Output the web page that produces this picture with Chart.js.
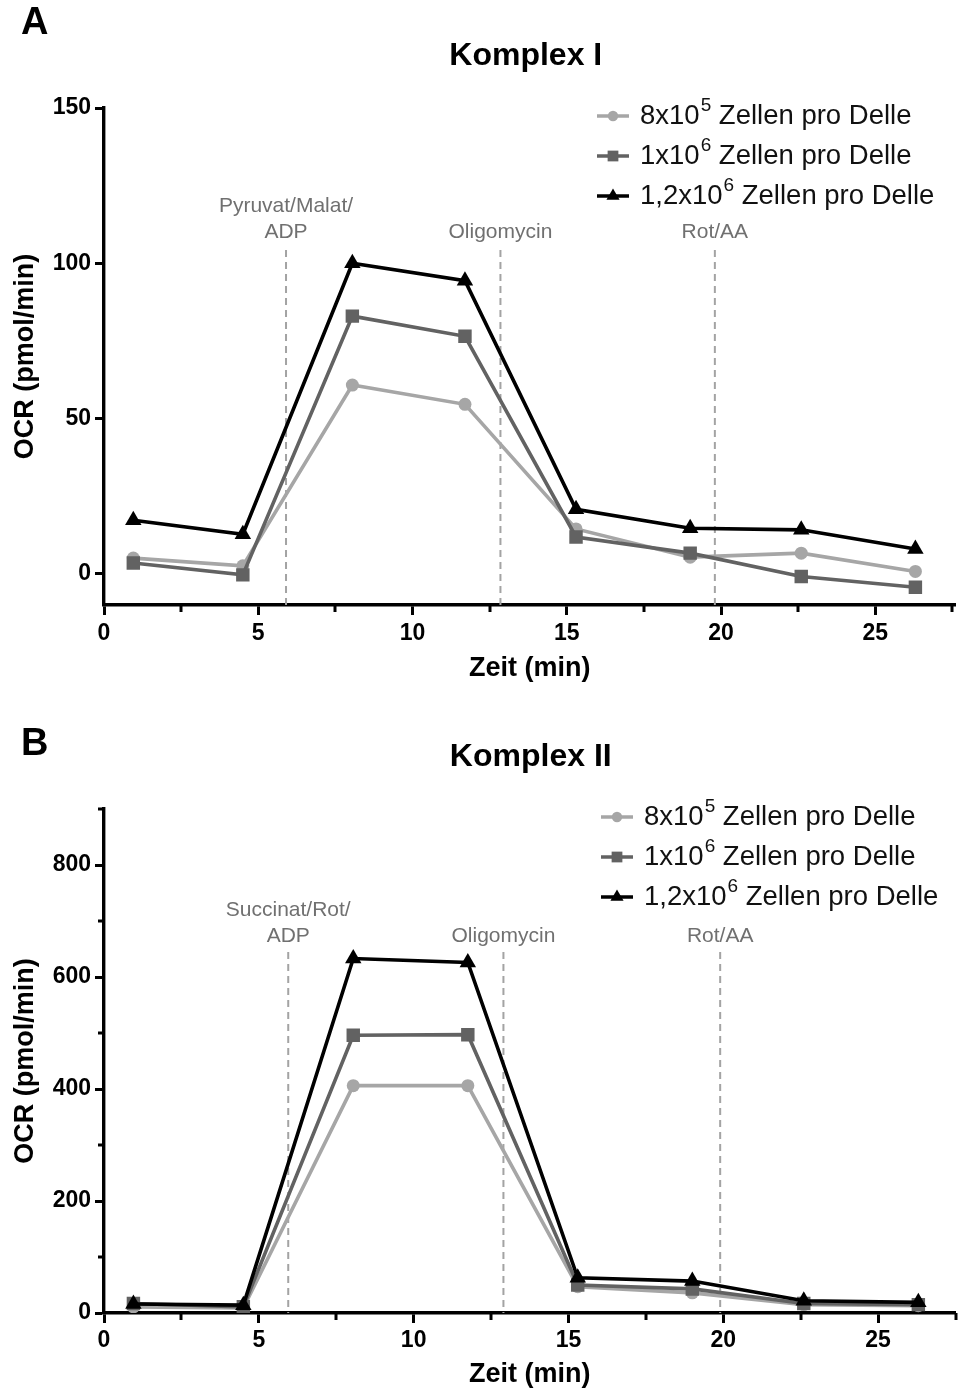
<!DOCTYPE html>
<html><head><meta charset="utf-8">
<script src="https://cdn.jsdelivr.net/npm/chart.js@4.4.0/dist/chart.umd.min.js"></script>
<style>
html,body{margin:0;padding:0;background:#fff;width:965px;height:1392px;overflow:hidden;}
.wrap{position:absolute;left:0;width:965px;height:696px;}
</style></head><body>
<div class="wrap" style="top:0"><canvas id="cA" width="965" height="696"></canvas></div>
<div class="wrap" style="top:696px"><canvas id="cB" width="965" height="696"></canvas></div>
<script>
// ---- data ----
const seriesLabels = ['8x10\u2075 Zellen pro Delle', '1x10\u2076 Zellen pro Delle', '1,2x10\u2076 Zellen pro Delle'];
const legendBase = ['8x10', '1x10', '1,2x10'];
const legendExp = ['5', '6', '6'];
const legendRest = ' Zellen pro Delle';

const timesA = [0.95, 4.5, 8.05, 11.7, 15.3, 19.0, 22.6, 26.3];
const komplexI_8e5 = [5.1, 2.6, 60.8, 54.6, 14.5, 5.4, 6.7, 0.8];
const komplexI_1e6 = [3.5, -0.3, 83.0, 76.5, 11.9, 6.7, -0.8, -4.3];
const komplexI_12e6 = [17.3, 12.8, 100.0, 94.4, 20.8, 14.7, 14.2, 8.0];
const injectionTimesA = [5.9, 12.85, 19.8];
const injectionLabelsA = [['Pyruvat/Malat/', 'ADP'], ['Oligomycin'], ['Rot/AA']];
const yMajorA = [0, 50, 100, 150];
const yMinorA = [];

const timesB = [0.95, 4.5, 8.05, 11.75, 15.3, 19.0, 22.6, 26.3];
const komplexII_8e5 = [11, 9, 406, 406, 47, 36, 15, 13];
const komplexII_1e6 = [17, 11, 496, 497, 50, 43, 17, 15];
const komplexII_12e6 = [16, 14, 633, 626, 63, 57, 22, 19];
const injectionTimesB = [5.95, 12.9, 19.9];
const injectionLabelsB = [['Succinat/Rot/', 'ADP'], ['Oligomycin'], ['Rot/AA']];
const yMajorB = [0, 200, 400, 600, 800];
const yMinorB = [100, 300, 500, 700, 900];

const xMajor = [0, 5, 10, 15, 20, 25];
const xMinor = [2.5, 7.5, 12.5, 17.5, 22.5, 27.5];

// ---- styles ----
const FONT = "'Liberation Sans', Arial, Helvetica, sans-serif";
const colors = ['#a6a6a6', '#626262', '#000000'];
const pointStyles = ['circle', 'rect', 'triangle'];
const pointRadii = [6.5, 9.5, 9.5];

function drawMarker(ctx, style, x, y, r, color) {
  ctx.save();
  ctx.fillStyle = color;
  ctx.beginPath();
  if (style === 'circle') {
    ctx.arc(x, y, r, 0, Math.PI * 2);
  } else if (style === 'rect') {
    const s = Math.SQRT1_2 * r;
    ctx.rect(x - s, y - s, 2 * s, 2 * s);
  } else {
    const w = r * Math.sqrt(3) / 2;
    ctx.moveTo(x, y - r);
    ctx.lineTo(x + w, y + r / 2);
    ctx.lineTo(x - w, y + r / 2);
    ctx.closePath();
  }
  ctx.fill();
  ctx.restore();
}

function makeChart(id, p) {
  const decor = {
    id: 'decor' + id,
    beforeDatasetsDraw(chart) {
      const ctx = chart.ctx, xs = chart.scales.x, area = chart.chartArea;
      ctx.save();
      p.inj.forEach((t, i) => {
        const px = xs.getPixelForValue(t);
        ctx.strokeStyle = '#a3a3a3';
        ctx.lineWidth = 2;
        ctx.setLineDash([7, 5]);
        ctx.beginPath();
        ctx.moveTo(px, p.dashTop);
        ctx.lineTo(px, area.bottom);
        ctx.stroke();
        ctx.setLineDash([]);
        ctx.fillStyle = '#707070';
        ctx.font = '21px ' + FONT;
        ctx.textAlign = 'center';
        ctx.textBaseline = 'middle';
        const lines = p.injLabels[i];
        lines.forEach((s, k) => {
          const yy = p.labelLastY - (lines.length - 1 - k) * 26;
          ctx.fillText(s, px, yy);
        });
      });
      ctx.restore();
    },
    afterDraw(chart) {
      const ctx = chart.ctx, area = chart.chartArea;
      const xs = chart.scales.x, ys = chart.scales.y;
      ctx.save();
      // minor (short) tick marks
      ctx.strokeStyle = '#000';
      ctx.lineWidth = 3;
      xMinor.forEach(v => {
        if (v > xs.max + 1e-9) return;
        const px = Math.round(xs.getPixelForValue(v));
        ctx.beginPath(); ctx.moveTo(px, area.bottom); ctx.lineTo(px, area.bottom + 7); ctx.stroke();
      });
      p.yMinor.forEach(v => {
        const py = Math.round(ys.getPixelForValue(v));
        ctx.beginPath(); ctx.moveTo(area.left, py); ctx.lineTo(area.left - 6, py); ctx.stroke();
      });
      ctx.fillStyle = '#000';
      ctx.textBaseline = 'middle';
      ctx.textAlign = 'left';
      ctx.font = 'bold 38px ' + FONT;
      ctx.fillText(p.letter, 21, p.letterY);
      ctx.textAlign = 'center';
      ctx.font = 'bold 32px ' + FONT;
      ctx.fillText(p.title, (area.left + area.right) / 2 + p.titleDx, p.titleY);
      // legend
      for (let i = 0; i < 3; i++) {
        const y = p.legY + i * 40;
        ctx.strokeStyle = colors[i];
        ctx.lineWidth = 3.5;
        ctx.beginPath();
        ctx.moveTo(p.legX, y);
        ctx.lineTo(p.legX + 32, y);
        ctx.stroke();
        drawMarker(ctx, pointStyles[i], p.legX + 16, y, pointRadii[i] * 0.8, colors[i]);
        ctx.fillStyle = '#111';
        ctx.textAlign = 'left';
        ctx.font = '27.5px ' + FONT;
        let x = p.legX + 43;
        ctx.fillText(legendBase[i], x, y);
        x += ctx.measureText(legendBase[i]).width + 1;
        ctx.font = '19px ' + FONT;
        ctx.fillText(legendExp[i], x, y - 10);
        x += ctx.measureText(legendExp[i]).width;
        ctx.font = '27.5px ' + FONT;
        ctx.fillText(legendRest, x, y);
      }
      ctx.restore();
    }
  };

  const series = [p.s1, p.s2, p.s3];
  const datasets = series.map((vals, i) => ({
    label: seriesLabels[i],
    data: vals.map((v, k) => ({ x: p.times[k], y: v })),
    borderColor: colors[i],
    backgroundColor: colors[i],
    borderWidth: 3.6,
    pointStyle: pointStyles[i],
    pointRadius: pointRadii[i],
    pointBorderWidth: 0,
    pointBackgroundColor: colors[i],
    tension: 0,
    order: 2 - i
  }));

  const majorSetX = new Set(xMajor);
  const majorSetY = new Set(p.yMajor);

  return new Chart(document.getElementById(id), {
    type: 'line',
    data: { datasets },
    plugins: [decor],
    options: {
      responsive: false,
      animation: false,
      devicePixelRatio: 1,
      layout: { padding: { top: p.padTop, right: 2, left: 0, bottom: 0 } },
      plugins: { legend: { display: false }, tooltip: { enabled: false }, title: { display: false } },
      scales: {
        x: {
          type: 'linear',
          min: 0, max: p.xMax,
          afterBuildTicks(axis) {
            axis.ticks = xMajor.concat(xMinor).filter(v => v <= p.xMax).sort((a, b) => a - b).map(v => ({ value: v }));
          },
          afterFit(axis) { axis.height = p.xAxisH; axis.paddingRight = 0; axis.paddingLeft = 0; },
          border: { display: true, color: '#000', width: 3.4 },
          grid: {
            drawOnChartArea: false, drawTicks: true, tickLength: 10,
            tickWidth: 3,
            tickColor: c => (c.tick && majorSetX.has(c.tick.value)) ? '#000' : 'rgba(0,0,0,0)'
          },
          ticks: {
            autoSkip: false, maxRotation: 0, padding: p.xTickPad,
            color: '#000',
            font: { family: FONT, size: 23, weight: 'bold' },
            callback: v => majorSetX.has(v) ? String(v) : ''
          },
          title: {
            display: true, text: 'Zeit (min)', color: '#000',
            font: { family: FONT, size: 27, weight: 'bold' },
            padding: { top: 0, bottom: p.xTitlePad }
          }
        },
        y: {
          type: 'linear',
          min: p.yMin, max: p.yMax,
          afterBuildTicks(axis) {
            axis.ticks = p.yMajor.concat(p.yMinor).sort((a, b) => a - b).map(v => ({ value: v }));
          },
          afterFit(axis) { axis.width = 104; },
          border: { display: true, color: '#000', width: 3.4 },
          grid: {
            drawOnChartArea: false, drawTicks: true, tickLength: 9,
            tickWidth: 3,
            tickColor: c => (c.tick && majorSetY.has(c.tick.value)) ? '#000' : 'rgba(0,0,0,0)'
          },
          ticks: {
            autoSkip: false, padding: 4, color: '#000',
            font: { family: FONT, size: 23, weight: 'bold' },
            callback: v => majorSetY.has(v) ? String(v) : ''
          },
          title: {
            display: true, text: 'OCR (pmol/min)', color: '#000',
            font: { family: FONT, size: 27, weight: 'bold' },
            padding: { top: 9, bottom: 0 }
          }
        }
      }
    }
  });
}

makeChart('cA', {
  letter: 'A', letterY: 24, title: 'Komplex I', titleY: 56, titleDx: -4,
  legX: 597, legY: 116,
  padTop: 108, xAxisH: 91, xTickPad: 5, xTitlePad: 11, xMax: 27.6,
  yMin: -10, yMax: 150, yMajor: yMajorA, yMinor: yMinorA,
  times: timesA, s1: komplexI_8e5, s2: komplexI_1e6, s3: komplexI_12e6,
  inj: injectionTimesA, injLabels: injectionLabelsA, labelLastY: 232, dashTop: 250
});
makeChart('cB', {
  letter: 'B', letterY: 49, title: 'Komplex II', titleY: 61, titleDx: 1,
  legX: 601, legY: 121,
  padTop: 113, xAxisH: 79, xTickPad: 4, xTitlePad: 1, xMax: 27.5,
  yMin: 0, yMax: 900, yMajor: yMajorB, yMinor: yMinorB,
  times: timesB, s1: komplexII_8e5, s2: komplexII_1e6, s3: komplexII_12e6,
  inj: injectionTimesB, injLabels: injectionLabelsB, labelLastY: 240, dashTop: 256
});
</script>
</body></html>
